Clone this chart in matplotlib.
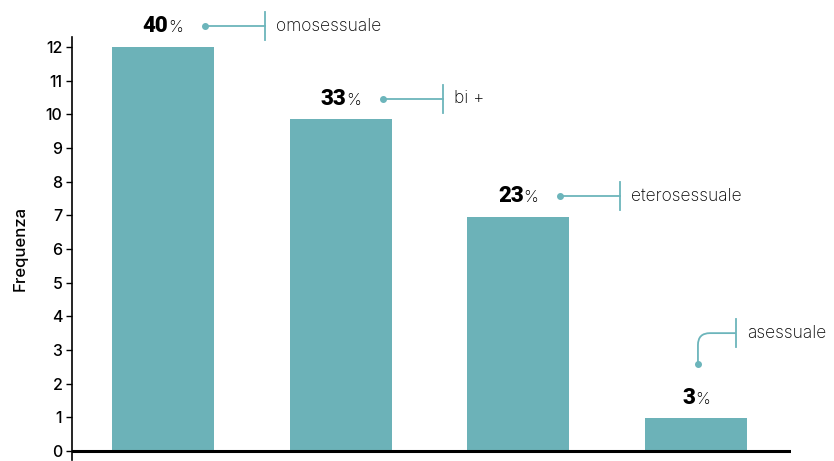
import matplotlib.pyplot as plt
from matplotlib.path import Path
from matplotlib.patches import PathPatch
from matplotlib.offsetbox import TextArea, HPacker, AnnotationBbox

categories = ['omosessuale', 'bi +', 'eterosessuale', 'asessuale']
counts = [12, 9.85, 6.95, 0.97]
percents = [40, 33, 23, 3]
yticks = list(range(0, 13))

bar_color = '#6cb2b8'
line_color = '#6cb5bb'

plt.rcParams['font.family'] = ['Inter', 'DejaVu Sans']

fig = plt.figure(figsize=(8.34, 4.61), dpi=100)
ax = fig.add_axes([72 / 834, 1.5 / 461, (791 - 72) / 834, 1 - 38.5 / 461])

x = list(range(len(categories)))
ax.bar(x, counts, width=0.573, color=bar_color, zorder=2)

ax.set_xlim(-0.512, 3.535)
ax.set_ylim(-0.25, 12.3)
ax.set_yticks(yticks)
ax.set_xticks([])
ax.tick_params(axis='y', length=4, width=1, labelsize=11.5, pad=3)
for lab in ax.get_yticklabels():
    lab.set_fontweight('medium')
ax.set_ylabel('Frequenza', fontsize=12, labelpad=13, fontweight='medium')

for s in ['top', 'right', 'bottom']:
    ax.spines[s].set_visible(False)
ax.spines['left'].set_linewidth(1.2)
ax.axhline(0, color='black', lw=2.2, zorder=3)

# pixel -> data unit conversion
ux = 1 / 177.7
uy = 1 / 33.94

for i, (cat, c, p) in enumerate(zip(categories, counts, percents)):
    label_y = c + 21 * uy
    num = TextArea(str(p), textprops=dict(fontsize=16, fontweight='black',
                                          family=['Roboto', 'DejaVu Sans']))
    pct = TextArea('%', textprops=dict(fontsize=12, fontweight='light'))
    box = HPacker(children=[num, pct], align='baseline', pad=0, sep=0)
    ab = AnnotationBbox(box, (i, label_y), frameon=False, box_alignment=(0.5, 0.5),
                        pad=0, annotation_clip=False)
    ax.add_artist(ab)

    if i < 3:
        dot = (i + 42 * ux, label_y)
        end_x = i + 102 * ux
        ax.plot([dot[0], end_x], [label_y, label_y], color=line_color, lw=1.3,
                clip_on=False, zorder=4)
        ax.plot(dot[0], dot[1], 'o', color=line_color, ms=4, clip_on=False, zorder=4)
        ax.plot([end_x, end_x], [label_y - 14 * uy, label_y + 14 * uy],
                color=line_color, lw=1.3, clip_on=False, zorder=4)
        ax.text(end_x + 11 * ux, label_y, cat, fontsize=12.5, va='center',
                ha='left', fontweight='light')
    else:
        # curved leader for the short bar
        dx, dy = i + 2 * ux, c + 55 * uy
        corner_y = c + 86 * uy
        end_x = i + 40 * ux
        verts = [(dx, dy), (dx, corner_y - 12 * uy), (dx, corner_y),
                 (dx + 12 * ux, corner_y), (end_x, corner_y)]
        codes = [Path.MOVETO, Path.LINETO, Path.CURVE3, Path.CURVE3, Path.LINETO]
        ax.add_patch(PathPatch(Path(verts, codes), fill=False, edgecolor=line_color,
                               lw=1.3, clip_on=False, zorder=4))
        ax.plot(dx, dy, 'o', color=line_color, ms=4, clip_on=False, zorder=4)
        ax.plot([end_x, end_x], [corner_y - 14 * uy, corner_y + 14 * uy],
                color=line_color, lw=1.3, clip_on=False, zorder=4)
        ax.text(end_x + 11 * ux, corner_y, cat, fontsize=12.5, va='center',
                ha='left', fontweight='light')

fig.savefig('out.png', dpi=100)
